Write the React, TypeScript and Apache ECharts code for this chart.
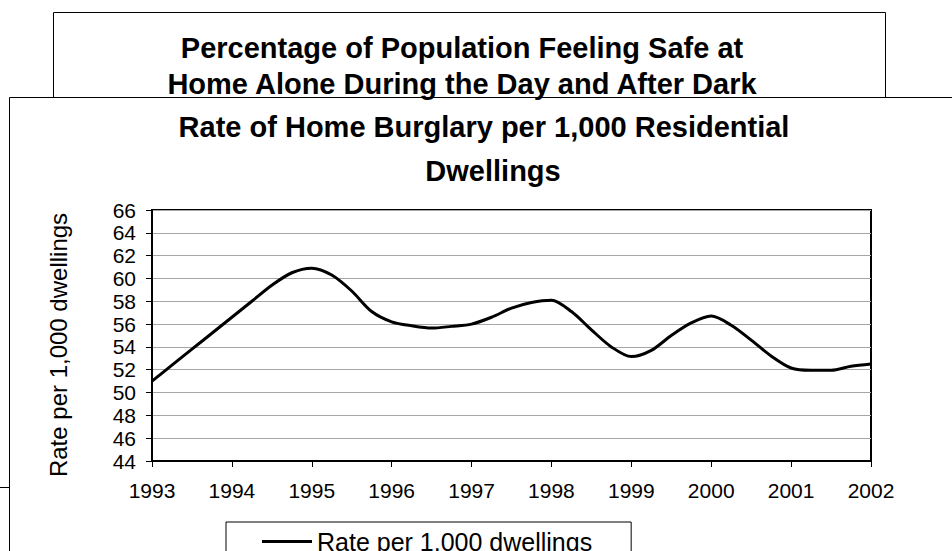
import { useEffect, useRef } from "react";
import * as echarts from "echarts";

const backTitleLines = [
  "Percentage of Population Feeling Safe at",
  "Home Alone During the Day and After Dark",
];
const frontTitleLines = ["Rate of Home Burglary per 1,000 Residential", "Dwellings"];
const seriesName = "Rate per 1,000 dwellings";
const yAxisName = "Rate per 1,000 dwellings";

const quarters = [
  1993, 1993.25, 1993.5, 1993.75,
  1994, 1994.25, 1994.5, 1994.75,
  1995, 1995.25, 1995.5, 1995.75,
  1996, 1996.25, 1996.5, 1996.75,
  1997, 1997.25, 1997.5, 1997.75,
  1998, 1998.25, 1998.5, 1998.75,
  1999, 1999.25, 1999.5, 1999.75,
  2000, 2000.25, 2000.5, 2000.75,
  2001, 2001.25, 2001.5, 2001.75,
  2002,
];
const rates = [
  51.0, 52.4, 53.8, 55.2,
  56.6, 58.0, 59.4, 60.5,
  60.9, 60.3, 58.9, 57.1,
  56.2, 55.85, 55.65, 55.8,
  56.0, 56.6, 57.4, 57.9,
  58.1, 57.1, 55.5, 54.0,
  53.15, 53.7, 55.0, 56.1,
  56.7, 55.9, 54.6, 53.2,
  52.15, 51.95, 51.95, 52.3,
  52.5,
];
const yMin = 44;
const yMax = 66;
const yStep = 2;
const xMin = 1993;
const xMax = 2002;
const xStep = 1;

const FONT = "'Liberation Sans', Arial, Helvetica, sans-serif";

export default function App() {
  const ref = useRef<HTMLDivElement>(null);
  useEffect(() => {
    if (!ref.current) return;
    const chart = echarts.init(ref.current, null, { renderer: "svg" });
    const titleStyle = (text: string) => ({
      text,
      font: `bold 29px ${FONT}`,
      textAlign: "center",
      textVerticalAlign: "middle",
      fill: "#000",
    });
    chart.setOption({
      animation: false,
      backgroundColor: "#ffffff",
      textStyle: { fontFamily: FONT, color: "#000" },
      graphic: [
        {
          type: "rect",
          shape: { x: 53.5, y: 12.5, width: 832, height: 85 },
          style: { fill: "none", stroke: "#000", lineWidth: 1 },
        },
        {
          type: "rect",
          shape: { x: 9.5, y: 97.5, width: 980, height: 520 },
          style: { fill: "none", stroke: "#000", lineWidth: 1 },
        },
        {
          type: "line",
          shape: { x1: 0, y1: 487.5, x2: 9, y2: 487.5 },
          style: { stroke: "#000", lineWidth: 1 },
        },
        { type: "text", x: 462, y: 48, style: titleStyle(backTitleLines[0]) },
        { type: "text", x: 462, y: 84, style: titleStyle(backTitleLines[1]) },
        { type: "text", x: 484, y: 127, style: titleStyle(frontTitleLines[0]) },
        { type: "text", x: 493, y: 171, style: titleStyle(frontTitleLines[1]) },
      ],
      grid: {
        left: 152,
        top: 210,
        width: 719,
        height: 251,
        show: true,
        borderColor: "#000",
        borderWidth: 2,
        backgroundColor: "transparent",
      },
      legend: {
        data: [seriesName],
        left: 226,
        top: 522,
        orient: "horizontal",
        borderColor: "#000",
        borderWidth: 1,
        padding: [7, 39, 40, 36],
        icon: "rect",
        itemWidth: 50,
        itemHeight: 3,
        textStyle: { fontSize: 25, color: "#000", fontFamily: FONT },
      },
      xAxis: {
        type: "value",
        min: xMin,
        max: xMax,
        interval: xStep,
        axisLine: { show: true, lineStyle: { color: "#000", width: 2 } },
        axisTick: { show: true, inside: false, length: 6, lineStyle: { color: "#000", width: 1 } },
        axisLabel: {
          fontSize: 21,
          color: "#000",
          margin: 19,
          fontFamily: FONT,
          formatter: (v: number) => String(v),
        },
        splitLine: { show: false },
      },
      yAxis: {
        type: "value",
        min: yMin,
        max: yMax,
        interval: yStep,
        name: yAxisName,
        nameLocation: "middle",
        nameRotate: 90,
        nameGap: 82,
        nameTextStyle: { fontSize: 24, color: "#000", fontFamily: FONT, padding: [0, 19, 0, 0] },
        axisLine: { show: true, lineStyle: { color: "#000", width: 2 } },
        axisTick: { show: true, inside: false, length: 6, lineStyle: { color: "#000", width: 1 } },
        axisLabel: { fontSize: 21, color: "#000", margin: 16, fontFamily: FONT },
        splitLine: { show: true, lineStyle: { color: "#a6a6a6", width: 1 } },
      },
      series: [
        {
          name: seriesName,
          type: "line",
          data: quarters.map((q, i) => [q, rates[i]]),
          smooth: 0.3,
          showSymbol: false,
          symbol: "none",
          color: "#000",
          lineStyle: { color: "#000", width: 3 },
        },
      ],
    });
    return () => chart.dispose();
  }, []);
  return (
    <div
      ref={ref}
      style={{ position: "fixed", left: 0, top: 0, width: 952, height: 551, background: "#fff" }}
    />
  );
}
